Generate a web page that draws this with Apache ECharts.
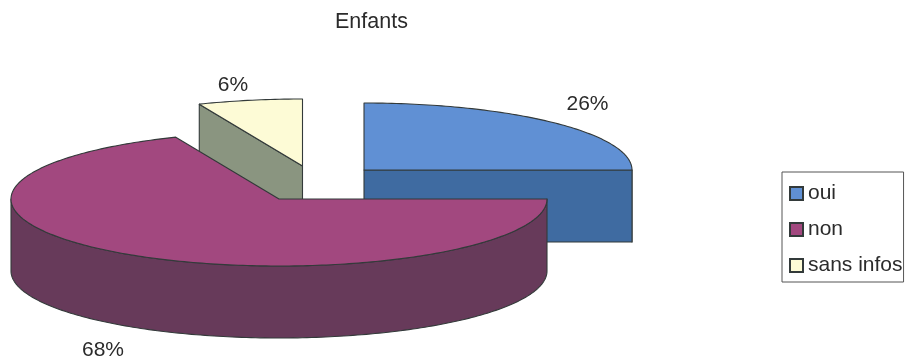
<!DOCTYPE html>
<html>
<head>
<meta charset="utf-8">
<style>html,body{margin:0;padding:0;background:#fff}#c{width:906px;height:362px}</style>
<script src="https://cdn.jsdelivr.net/npm/echarts@6/dist/echarts.min.js"></script>
</head>
<body>
<div id="c"></div>
<script>
const categories = ['oui', 'non', 'sans infos'];
const values = [25.5, 68, 6.49];

// Styling and layout, kept apart from the data
const topColors = ['#6090d4', '#a2487f', '#fdfbd6'];
const wallColors = ['#3f6ba1', '#673a5a', '#6b6b50'];
const cutColors = ['#3f6ba1', '#673a5a', '#8a9580'];
const apexes = [[364, 170], [279, 199], [302.5, 166]];
const labelPositions = [[587.5, 104], [103, 350], [233, 85]];
const drawOrder = [0, 2, 1];
const RX = 268, RY = 67, DEPTH = 72, START = 0;
const PERSPECTIVE = 1.8; // degrees of angular distortion of the tilted view
const LINE = '#333a3a';

const total = values.reduce((a, b) => a + b, 0);
const toAngle = v => {
  const d = echarts.number.linearMap(v, [0, total], [START, START + 360]);
  return d - PERSPECTIVE * Math.sin(d * Math.PI / 180);
};
const spans = [];
values.reduce((acc, v, i) => {
  spans[i] = [toAngle(acc), toAngle(acc + v)];
  return acc + v;
}, 0);

function rimPoint(apex, deg, dy) {
  const t = deg * Math.PI / 180;
  return [apex[0] + RX * Math.sin(t), apex[1] - RY * Math.cos(t) + (dy || 0)];
}
function arc(apex, a, b, dy) {
  const pts = [];
  const n = Math.max(2, Math.ceil(Math.abs(b - a)));
  for (let i = 0; i <= n; i++) pts.push(rimPoint(apex, a + (b - a) * i / n, dy));
  return pts;
}
function poly(points, fill) {
  return { type: 'polygon', shape: { points }, style: { fill, stroke: LINE, lineWidth: 1.1, lineJoin: 'round' }, silent: true };
}
function cutFace(apex, deg, fill) {
  const r = rimPoint(apex, deg);
  return poly([apex, r, [r[0], r[1] + DEPTH], [apex[0], apex[1] + DEPTH]], fill);
}
function renderSlice(idx) {
  return function (params, api) {
    const [a, b] = spans[idx];
    const apex = apexes[idx];
    const children = [];
    // outer wall: only the front part of the rim can be seen
    const wa = Math.max(a, 90), wb = Math.min(b, 270);
    if (wb > wa) {
      children.push(poly(arc(apex, wa, wb, 0).concat(arc(apex, wb, wa, DEPTH)), wallColors[idx]));
    }
    // cut faces that look towards the viewer
    if (Math.sin(a * Math.PI / 180) < -1e-6) children.push(cutFace(apex, a, cutColors[idx]));
    if (Math.sin(b * Math.PI / 180) > 1e-6) children.push(cutFace(apex, b, cutColors[idx]));
    // top
    children.push(poly([apex].concat(arc(apex, a, b, 0)), topColors[idx]));
    // percentage label
    children.push({
      type: 'text', silent: true,
      style: {
        x: labelPositions[idx][0], y: labelPositions[idx][1],
        text: Math.round(api.value(0) / total * 100) + '%',
        font: '21px "Liberation Sans", Arial, sans-serif',
        fill: '#2b2b2b', align: 'center', verticalAlign: 'middle'
      }
    });
    return { type: 'group', children };
  };
}

const chart = echarts.init(document.getElementById('c'), null, { renderer: 'canvas' });
chart.setOption({
  animation: false,
  backgroundColor: '#ffffff',
  title: {
    text: 'Enfants', left: 330, top: 6,
    textStyle: { fontFamily: '"Liberation Sans", Arial, sans-serif', fontSize: 21.5, fontWeight: 'normal', color: '#2b2b2b' }
  },
  legend: {
    orient: 'vertical', left: 782, top: 172,
    padding: [11, 1, 6, 7], itemGap: 15, itemWidth: 13, itemHeight: 13,
    icon: 'rect', borderColor: '#555', borderWidth: 1, selectedMode: false,
    data: categories,
    textStyle: { fontFamily: '"Liberation Sans", Arial, sans-serif', fontSize: 21, color: '#2b2b2b' }
  },
  series: drawOrder.map(i => ({
    type: 'custom',
    name: categories[i],
    coordinateSystem: 'none',
    data: [[values[i]]],
    renderItem: renderSlice(i),
    itemStyle: { color: topColors[i], borderColor: LINE, borderWidth: 1.2 },
    silent: true
  }))
});
</script>
</body>
</html>
